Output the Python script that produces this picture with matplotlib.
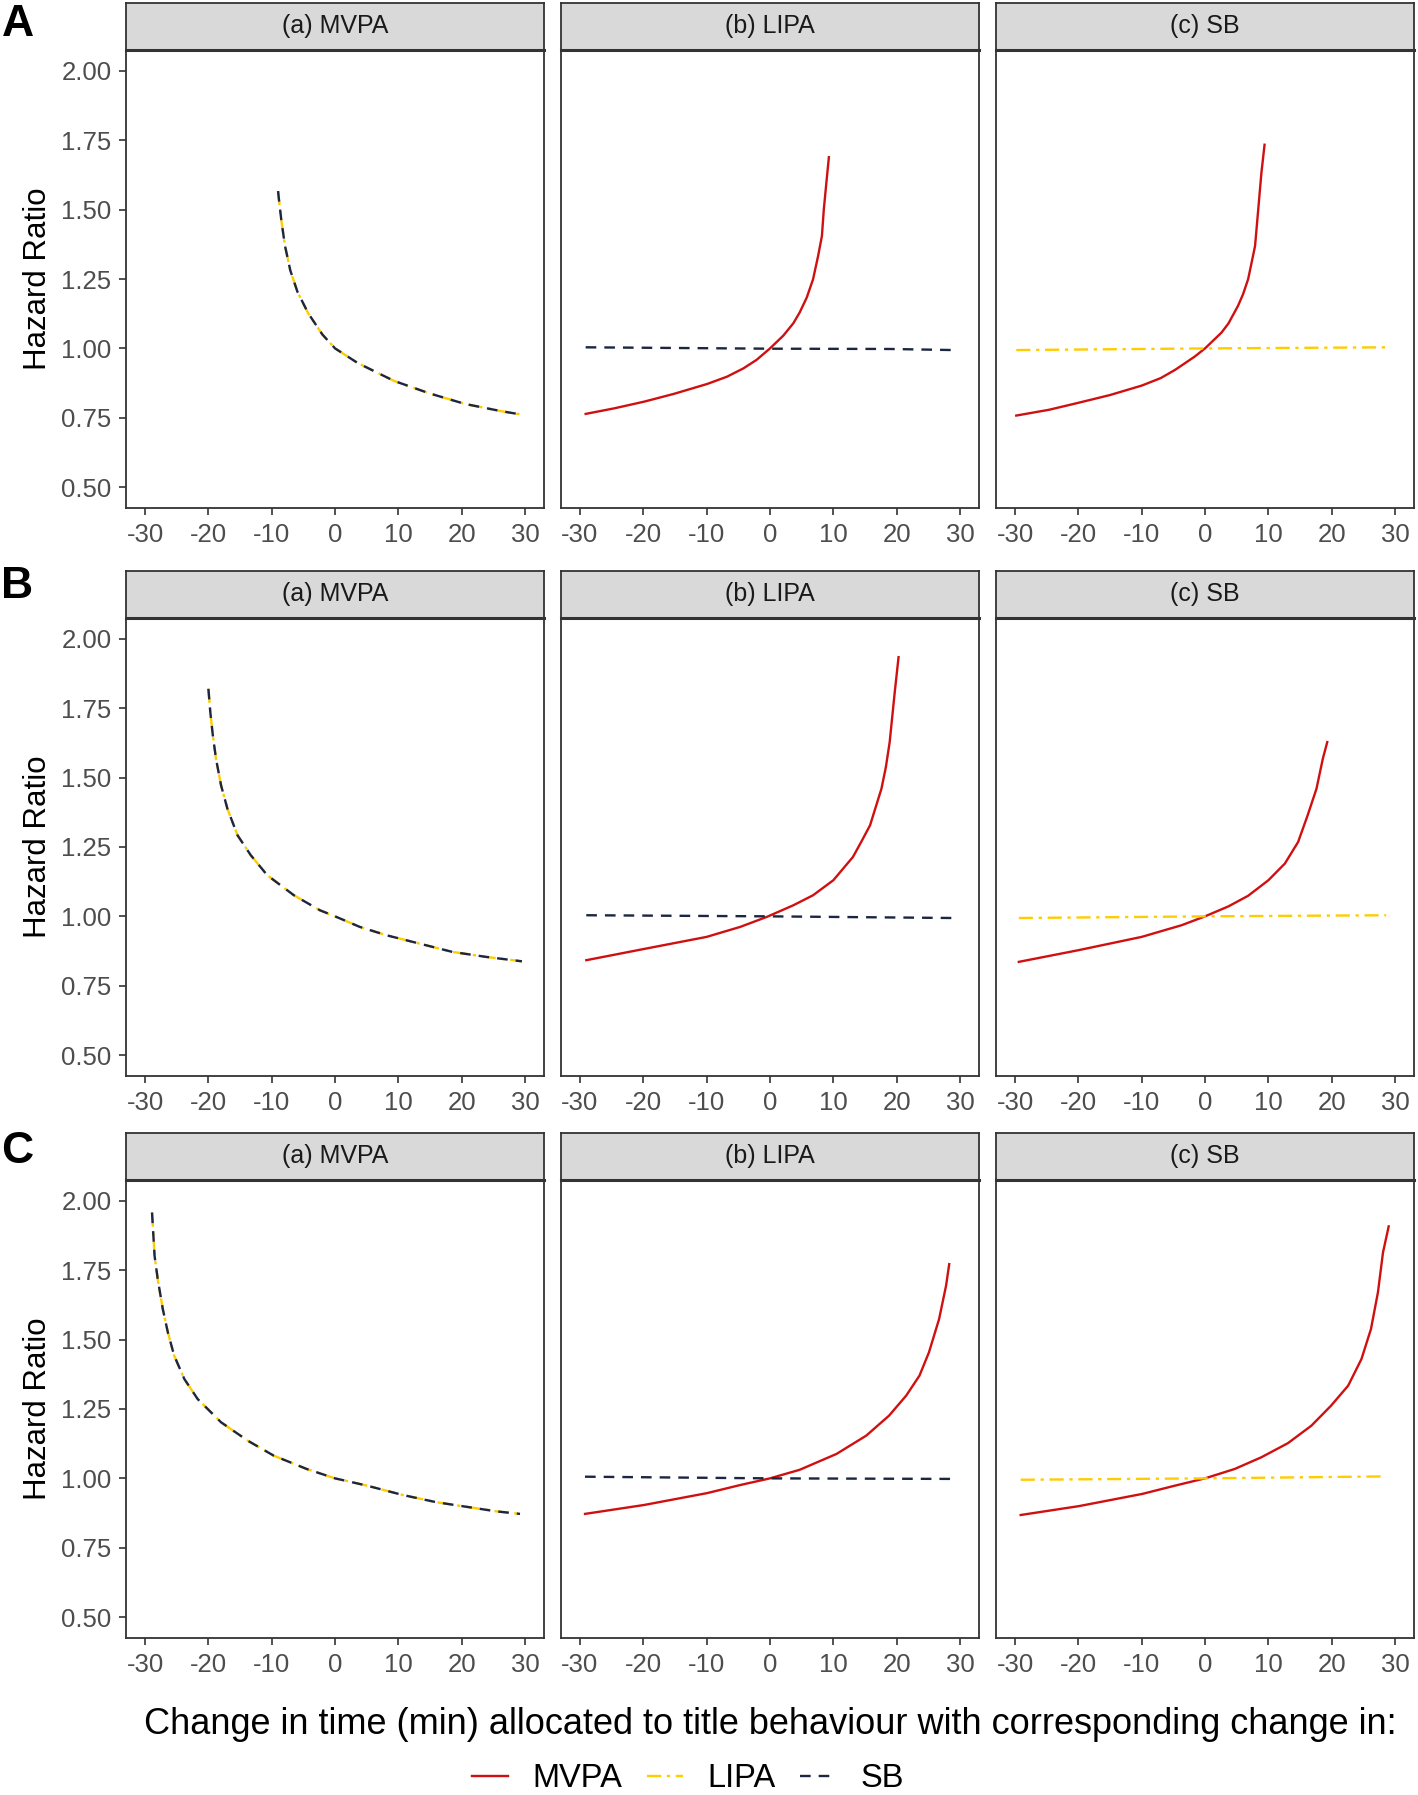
import matplotlib as mpl
mpl.use("Agg")
import matplotlib.pyplot as plt
from matplotlib.lines import Line2D

plt.rcParams['font.family'] = ['Liberation Sans', 'DejaVu Sans']

# ---- data (x = change in minutes, hr = hazard ratio) ----
panel_titles = ["(a) MVPA", "(b) LIPA", "(c) SB"]
row_letters = ["A", "B", "C"]
x_ticks = [-30, -20, -10, 0, 10, 20, 30]
y_ticks = [0.50, 0.75, 1.00, 1.25, 1.50, 1.75, 2.00]

# row A
A_a_x = [-9.0, -8.87, -8.48, -7.92, -7.07, -5.94, -4.25, -2.0, 0, 3.6, 9.3, 14.9, 20.5, 26.2, 29.6]
A_a_hr = [1.567, 1.538, 1.461, 1.371, 1.281, 1.204, 1.127, 1.050, 1.0, 0.947, 0.883, 0.838, 0.80, 0.774, 0.761]
A_b_mvpa_x = [-29.1, -24.6, -19.9, -15.2, -9.9, -6.8, -4.2, -2.1, 0, 2.1, 3.7, 4.7, 5.8, 6.8, 7.6, 8.2, 8.5, 8.9, 9.3]
A_b_mvpa_hr = [0.764, 0.784, 0.808, 0.836, 0.872, 0.898, 0.928, 0.959, 1.0, 1.046, 1.091, 1.130, 1.183, 1.249, 1.333, 1.405, 1.501, 1.596, 1.689]
A_b_sb_x = [-29.1, 0, 18.9, 29.1]
A_b_sb_hr = [1.004, 0.999, 0.998, 0.994]
A_c_mvpa_x = [-29.8, -24.6, -20, -15, -10, -7, -4.7, -1.6, 0, 2.6, 3.7, 5.2, 6.0, 6.8, 7.3, 7.9, 8.4, 8.9, 9.4]
A_c_mvpa_hr = [0.758, 0.779, 0.804, 0.832, 0.866, 0.893, 0.923, 0.971, 1.0, 1.057, 1.09, 1.153, 1.195, 1.249, 1.303, 1.369, 1.50, 1.632, 1.734]
A_c_lipa_x = [-29.8, 0, 29]
A_c_lipa_hr = [0.994, 1.0, 1.004]

# row B
B_a_x = [-20, -19.7, -19.3, -18.8, -18.0, -17.0, -15.4, -13.3, -10.7, -6.5, -2.4, 0, 3.9, 8.1, 13.3, 18.5, 23.8, 29.5]
B_a_hr = [1.82, 1.736, 1.652, 1.568, 1.472, 1.388, 1.292, 1.22, 1.148, 1.076, 1.022, 1.0, 0.962, 0.932, 0.902, 0.872, 0.854, 0.838]
B_b_mvpa_x = [-29, -20, -10, -4.7, -0.5, 3.7, 6.8, 10.0, 13.1, 14.4, 15.8, 17.6, 18.3, 18.9, 19.7, 20.3]
B_b_mvpa_hr = [0.842, 0.882, 0.926, 0.962, 0.998, 1.04, 1.076, 1.13, 1.214, 1.268, 1.328, 1.46, 1.538, 1.628, 1.808, 1.934]
B_b_sb_x = [-29, 0, 29]
B_b_sb_hr = [1.004, 1.0, 0.994]
B_c_mvpa_x = [-29.4, -20, -10, -3.7, 0, 3.7, 6.8, 10, 12.6, 14.7, 16.2, 17.6, 18.6, 19.3]
B_c_mvpa_hr = [0.836, 0.878, 0.926, 0.968, 1.0, 1.036, 1.074, 1.13, 1.19, 1.268, 1.364, 1.46, 1.568, 1.628]
B_c_lipa_x = [-29.4, 0, 28.6]
B_c_lipa_hr = [0.994, 1.0, 1.004]

# row C
C_a_x = [-28.9, -28.5, -28.0, -27.2, -26.4, -25.4, -23.8, -21.7, -18.0, -13.8, -9.7, -4.5, 0, 5.0, 10.7, 16.0, 21.2, 25.5, 29.2]
C_a_hr = [1.958, 1.802, 1.718, 1.61, 1.526, 1.442, 1.358, 1.286, 1.202, 1.136, 1.082, 1.034, 1.0, 0.974, 0.940, 0.914, 0.896, 0.881, 0.872]
C_b_mvpa_x = [-29.2, -19.9, -9.9, -4.7, 0, 4.7, 10.5, 15.2, 18.8, 21.5, 23.6, 25.1, 26.7, 27.8, 28.3]
C_b_mvpa_hr = [0.872, 0.904, 0.947, 0.976, 1.0, 1.031, 1.088, 1.154, 1.226, 1.298, 1.37, 1.454, 1.574, 1.694, 1.772]
C_b_sb_x = [-29.2, 0, 28.9]
C_b_sb_hr = [1.006, 1.0, 0.998]
C_c_mvpa_x = [-29.1, -19.9, -9.9, -4.7, 0, 4.7, 8.9, 13.1, 16.8, 19.9, 22.6, 24.7, 26.2, 27.3, 28.1, 29.0]
C_c_mvpa_hr = [0.868, 0.90, 0.944, 0.974, 1.0, 1.034, 1.076, 1.127, 1.19, 1.262, 1.334, 1.43, 1.538, 1.67, 1.814, 1.908]
C_c_lipa_x = [-29.1, 0, 28.1]
C_c_lipa_hr = [0.995, 1.0, 1.007]

# ---- styles ----
col_mvpa = '#D01010'
col_lipa = '#FFCC00'
col_sb = '#1C2541'
lw = 1.7
dash_sb = (4.5, 3.4)
dash_lipa = (6, 2.4, 1.4, 2.4)
grey20 = '#333333'
tick_col = '#4D4D4D'

fig = plt.figure(figsize=(14.18, 17.95), dpi=100)

col_left = [0.0889, 0.3956, 0.7024]
col_w = 0.2948
row_bottom = [0.7170, 0.4006, 0.0875]
panel_h = 0.2551
strip_h = 0.0262
letter_y = [0.9975, 0.6845, 0.3700]


def draw_lipa(ax, x, y):
    ax.plot(x, y, color=col_lipa, lw=lw, dashes=dash_lipa)


def draw_sb(ax, x, y):
    ax.plot(x, y, color=col_sb, lw=lw, dashes=dash_sb)


def draw_mvpa(ax, x, y):
    ax.plot(x, y, color=col_mvpa, lw=lw)


rows = [
    [(A_a_x, A_a_hr), (A_b_mvpa_x, A_b_mvpa_hr, A_b_sb_x, A_b_sb_hr), (A_c_mvpa_x, A_c_mvpa_hr, A_c_lipa_x, A_c_lipa_hr)],
    [(B_a_x, B_a_hr), (B_b_mvpa_x, B_b_mvpa_hr, B_b_sb_x, B_b_sb_hr), (B_c_mvpa_x, B_c_mvpa_hr, B_c_lipa_x, B_c_lipa_hr)],
    [(C_a_x, C_a_hr), (C_b_mvpa_x, C_b_mvpa_hr, C_b_sb_x, C_b_sb_hr), (C_c_mvpa_x, C_c_mvpa_hr, C_c_lipa_x, C_c_lipa_hr)],
]

for r in range(3):
    for c in range(3):
        ax = fig.add_axes([col_left[c], row_bottom[r], col_w, panel_h])
        d = rows[r][c]
        if c == 0:
            draw_lipa(ax, d[0], d[1])
            draw_sb(ax, d[0], d[1])
        elif c == 1:
            draw_mvpa(ax, d[0], d[1])
            draw_sb(ax, d[2], d[3])
        else:
            draw_mvpa(ax, d[0], d[1])
            draw_lipa(ax, d[2], d[3])

        ax.set_xlim(-33, 33)
        ax.set_ylim(0.425, 2.075)
        ax.set_xticks(x_ticks)
        ax.set_xticklabels([str(t) for t in x_ticks])
        ax.set_yticks(y_ticks)
        if c == 0:
            ax.set_yticklabels([f"{t:.2f}" for t in y_ticks])
        else:
            ax.tick_params(axis='y', left=False, labelleft=False)
        ax.tick_params(axis='both', length=5, width=1.2, color=grey20,
                       labelcolor=tick_col, labelsize=18.5, pad=5.5)
        for s in ax.spines.values():
            s.set_color(grey20)
            s.set_linewidth(1.3)

        # facet strip
        sx = fig.add_axes([col_left[c], row_bottom[r] + panel_h, col_w, strip_h])
        sx.set_facecolor('#D9D9D9')
        sx.set_xticks([])
        sx.set_yticks([])
        for s in sx.spines.values():
            s.set_color(grey20)
            s.set_linewidth(1.3)
        sx.spines['bottom'].set_linewidth(2.2)
        sx.text(0.5, 0.52, panel_titles[c], transform=sx.transAxes,
                ha='center', va='center', fontsize=18, color='#1A1A1A')

    fig.text(0.027, row_bottom[r] + panel_h / 2, 'Hazard Ratio', rotation=90,
             ha='center', va='center', fontsize=22.5)
    fig.text(0.001, letter_y[r], row_letters[r], ha='left', va='top',
             fontsize=32, fontweight='bold')

fig.text(0.543, 0.039,
         'Change in time (min) allocated to title behaviour with corresponding change in:',
         ha='center', va='center', fontsize=26)

handles = [
    Line2D([], [], color=col_mvpa, lw=lw),
    Line2D([], [], color=col_lipa, lw=lw, dashes=dash_lipa),
    Line2D([], [], color=col_sb, lw=lw, dashes=dash_sb),
]
fig.legend(handles, ['MVPA', 'LIPA', 'SB'], loc='center', bbox_to_anchor=(0.485, 0.009),
           ncol=3, frameon=False, fontsize=23.5, handlelength=1.1,
           handletextpad=0.75, columnspacing=0.75, borderpad=0)

fig.savefig('out.png', dpi=100)
